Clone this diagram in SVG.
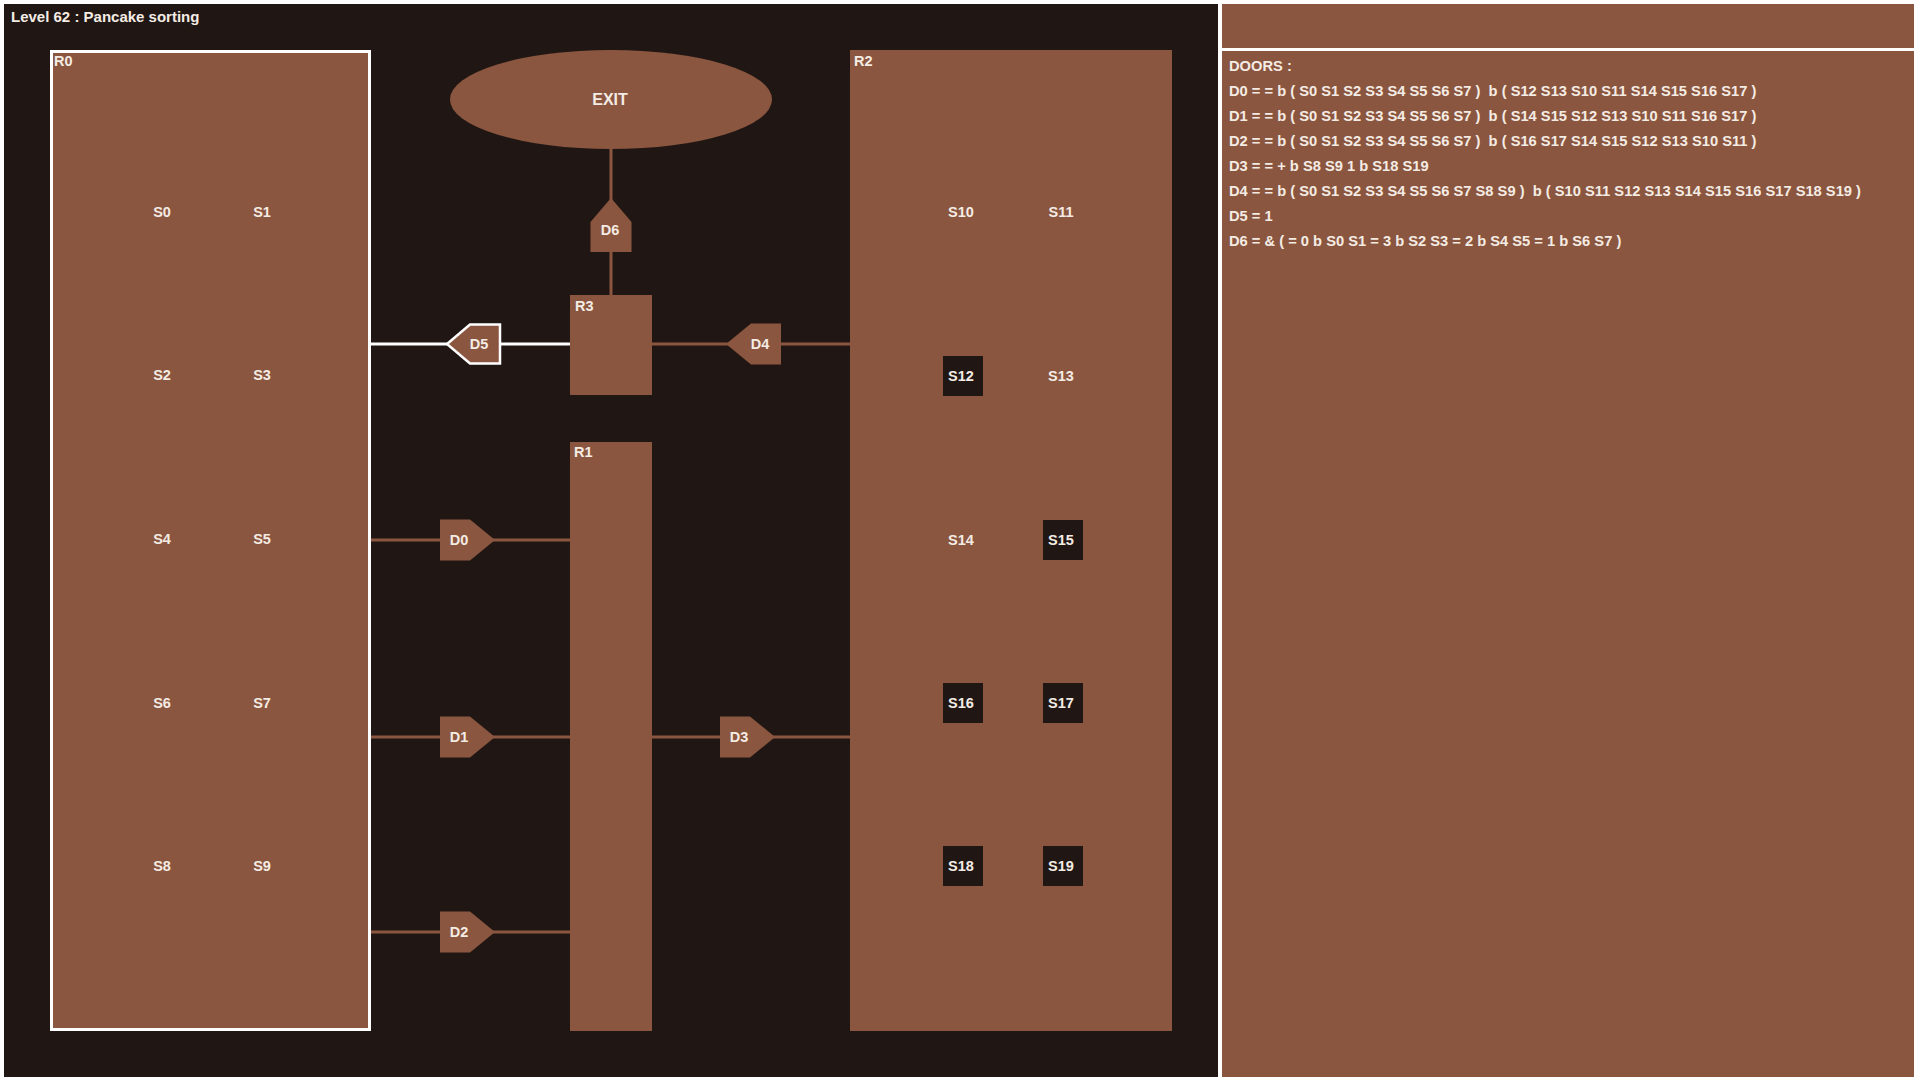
<svg xmlns="http://www.w3.org/2000/svg" width="1920" height="1080" viewBox="0 0 1920 1080">
  <style>
    text { font-family: "Liberation Sans", Arial, sans-serif; font-weight: bold; fill: #f4ece4; }
    .room { fill: #8b563f; }
    .slotbox { fill: #201714; }
    .slot { font-size: 14.5px; text-anchor: middle; }
    .lbl { font-size: 14.5px; }
    .door { fill: #8b563f; }
    .dlbl { font-size: 14.5px; text-anchor: middle; }
    .wire { stroke: #8b563f; stroke-width: 3; fill: none; }
    .wire-open { stroke: #ffffff; stroke-width: 3; fill: none; }
    .panel { font-size: 14.7px; white-space: pre; }
  </style>

  <!-- frame and backgrounds -->
  <rect x="0" y="0" width="1920" height="1080" fill="#ffffff"/>
  <rect x="4" y="4" width="1214" height="1073" fill="#201714"/>
  <rect x="1222" y="4" width="692" height="44" fill="#8b563f"/>
  <rect x="1222" y="51" width="692" height="1026" fill="#8b563f"/>

  <text x="11" y="22" font-size="15">Level 62 : Pancake sorting</text>

  <!-- connectors -->
  <g id="connectors">
    <line class="wire" x1="611" y1="149" x2="611" y2="295"/>
    <line class="wire-open" x1="371" y1="344" x2="570" y2="344"/>
    <line class="wire" x1="652" y1="344" x2="850" y2="344"/>
    <line class="wire" x1="371" y1="540" x2="570" y2="540"/>
    <line class="wire" x1="371" y1="737" x2="570" y2="737"/>
    <line class="wire" x1="371" y1="932" x2="570" y2="932"/>
    <line class="wire" x1="652" y1="737" x2="850" y2="737"/>
  </g>

  <!-- exit -->
  <g id="exit">
    <ellipse cx="611" cy="99.5" rx="161" ry="49.5" class="room"/>
    <text x="610" y="105" font-size="16" text-anchor="middle">EXIT</text>
  </g>

  <!-- room R0 (selected, white outline) -->
  <g id="R0">
    <rect x="51.5" y="51.5" width="318" height="978" class="room" stroke="#ffffff" stroke-width="3"/>
    <text class="lbl" x="54" y="66">R0</text>
    <text class="slot" x="162" y="217">S0</text>
    <text class="slot" x="262" y="217">S1</text>
    <text class="slot" x="162" y="380">S2</text>
    <text class="slot" x="262" y="380">S3</text>
    <text class="slot" x="162" y="544">S4</text>
    <text class="slot" x="262" y="544">S5</text>
    <text class="slot" x="162" y="708">S6</text>
    <text class="slot" x="262" y="708">S7</text>
    <text class="slot" x="162" y="871">S8</text>
    <text class="slot" x="262" y="871">S9</text>
  </g>

  <!-- room R1 -->
  <g id="R1">
    <rect x="570" y="442" width="82" height="589" class="room"/>
    <text class="lbl" x="574" y="457">R1</text>
  </g>

  <!-- room R3 -->
  <g id="R3">
    <rect x="570" y="295" width="82" height="100" class="room"/>
    <text class="lbl" x="575" y="311">R3</text>
  </g>

  <!-- room R2 -->
  <g id="R2">
    <rect x="850" y="50" width="322" height="981" class="room"/>
    <text class="lbl" x="854" y="66">R2</text>
    <rect class="slotbox" x="943" y="356" width="40" height="40"/>
    <rect class="slotbox" x="1043" y="520" width="40" height="40"/>
    <rect class="slotbox" x="943" y="683" width="40" height="40"/>
    <rect class="slotbox" x="1043" y="683" width="40" height="40"/>
    <rect class="slotbox" x="943" y="846" width="40" height="40"/>
    <rect class="slotbox" x="1043" y="846" width="40" height="40"/>
    <text class="slot" x="961" y="217">S10</text>
    <text class="slot" x="1061" y="217">S11</text>
    <text class="slot" x="961" y="381">S12</text>
    <text class="slot" x="1061" y="381">S13</text>
    <text class="slot" x="961" y="545">S14</text>
    <text class="slot" x="1061" y="545">S15</text>
    <text class="slot" x="961" y="708">S16</text>
    <text class="slot" x="1061" y="708">S17</text>
    <text class="slot" x="961" y="871">S18</text>
    <text class="slot" x="1061" y="871">S19</text>
  </g>

  <!-- doors -->
  <g id="D0">
    <polygon class="door" points="440,519.5 470,519.5 495,540 470,560.5 440,560.5"/>
    <text class="dlbl" x="459" y="545">D0</text>
  </g>
  <g id="D1">
    <polygon class="door" points="440,716.5 470,716.5 495,737 470,757.5 440,757.5"/>
    <text class="dlbl" x="459" y="742">D1</text>
  </g>
  <g id="D2">
    <polygon class="door" points="440,911.5 470,911.5 495,932 470,952.5 440,952.5"/>
    <text class="dlbl" x="459" y="937">D2</text>
  </g>
  <g id="D3">
    <polygon class="door" points="720,716.5 750,716.5 775,737 750,757.5 720,757.5"/>
    <text class="dlbl" x="739" y="742">D3</text>
  </g>
  <g id="D4">
    <polygon class="door" points="781,323.5 751,323.5 726,344 751,364.5 781,364.5"/>
    <text class="dlbl" x="760" y="349">D4</text>
  </g>
  <g id="D5">
    <polygon class="door" points="500,324.5 470,324.5 447,344 470,363.5 500,363.5" stroke="#ffffff" stroke-width="2.5"/>
    <text class="dlbl" x="479" y="349">D5</text>
  </g>
  <g id="D6">
    <polygon class="door" points="590.5,252 590.5,222 611,198 631.5,222 631.5,252"/>
    <text class="dlbl" x="610" y="235">D6</text>
  </g>

  <!-- door rules -->
  <g id="rules">
    <text class="panel" x="1229" y="71">DOORS :</text>
    <text class="panel" x="1229" y="96" xml:space="preserve">D0 = = b ( S0 S1 S2 S3 S4 S5 S6 S7 )  b ( S12 S13 S10 S11 S14 S15 S16 S17 )</text>
    <text class="panel" x="1229" y="121" xml:space="preserve">D1 = = b ( S0 S1 S2 S3 S4 S5 S6 S7 )  b ( S14 S15 S12 S13 S10 S11 S16 S17 )</text>
    <text class="panel" x="1229" y="146" xml:space="preserve">D2 = = b ( S0 S1 S2 S3 S4 S5 S6 S7 )  b ( S16 S17 S14 S15 S12 S13 S10 S11 )</text>
    <text class="panel" x="1229" y="171">D3 = = + b S8 S9 1 b S18 S19</text>
    <text class="panel" x="1229" y="196" xml:space="preserve">D4 = = b ( S0 S1 S2 S3 S4 S5 S6 S7 S8 S9 )  b ( S10 S11 S12 S13 S14 S15 S16 S17 S18 S19 )</text>
    <text class="panel" x="1229" y="221">D5 = 1</text>
    <text class="panel" x="1229" y="246">D6 = &amp; ( = 0 b S0 S1 = 3 b S2 S3 = 2 b S4 S5 = 1 b S6 S7 )</text>
  </g>
</svg>
